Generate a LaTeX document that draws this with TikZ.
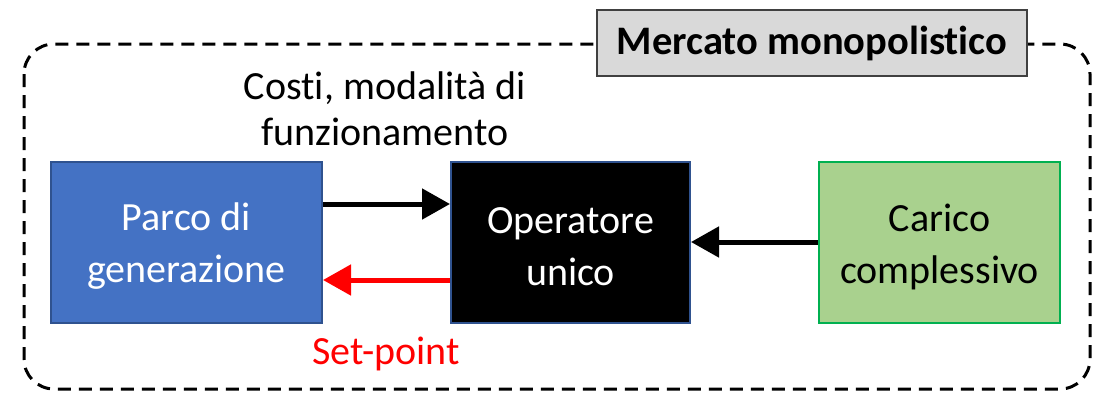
\documentclass[tikz,border=0pt]{standalone}
\usepackage{fontspec}
\setmainfont{Carlito}[Ligatures={NoCommon}]
\usetikzlibrary{arrows.meta}
\definecolor{blueF}{HTML}{4472C4}
\definecolor{blueD}{HTML}{2F528F}
\definecolor{greenF}{HTML}{A9D18E}
\definecolor{greenD}{HTML}{00B050}
\definecolor{grayF}{HTML}{D9D9D9}
\definecolor{grayD}{HTML}{404040}
\tikzset{
  blk/.style={draw, line width=2pt, inner sep=0pt, align=center, font=\fontsize{40}{52}\selectfont},
  conn/.style={line width=5pt, -{Triangle[length=28pt,width=30pt]}},
  lbl/.style={align=center, font=\fontsize{40}{46}\selectfont, inner sep=0pt},
}
\begin{document}
\begin{tikzpicture}[x=1pt,y=-1pt]
\useasboundingbox (0,0) rectangle (1102,394);
\draw[line width=3pt, dash pattern=on 13pt off 8pt, rounded corners=30pt] (24,44) rectangle (1090,389);
\node[draw=grayD, fill=grayF, line width=2pt, minimum width=430pt, minimum height=66pt, inner sep=0pt, font=\bfseries\fontsize{40.5}{46}\selectfont] (title) at (812,43) {Mercato monopolistico};
\node[blk, fill=blueF, draw=blueD, minimum width=271pt, minimum height=161pt] (parco) at (186.5,242.5) {};
\node[blk, fill=black, draw=blueD, minimum width=239pt, minimum height=161pt] (op) at (570.5,242.5) {};
\node[blk, fill=greenF, draw=greenD, minimum width=241pt, minimum height=161pt] (car) at (939.5,242.5) {};
\node[lbl, text=white, font=\fontsize{40}{52}\selectfont] (parcot) at (186.5,246.5) {Parco di\\generazione};
\node[lbl, text=white, font=\fontsize{40}{52}\selectfont] (opt) at (570.5,246.5) {Operatore\\unico};
\node[lbl, text=black, font=\fontsize{40}{52}\selectfont] (cart) at (939.5,246.5) {Carico\\complessivo};
\node[lbl] (costi) at (385,109) {Costi, modalità di\\funzionamento};
\node[lbl, text=red] (sp) at (386,354) {Set-point};
\draw[conn] (parco.east |- 0,204) -- (op.west |- 0,204);
\draw[conn, red] (op.west |- 0,280) -- (parco.east |- 0,280);
\draw[conn] (car.west |- 0,242) -- (op.east |- 0,242);
\end{tikzpicture}
\end{document}
